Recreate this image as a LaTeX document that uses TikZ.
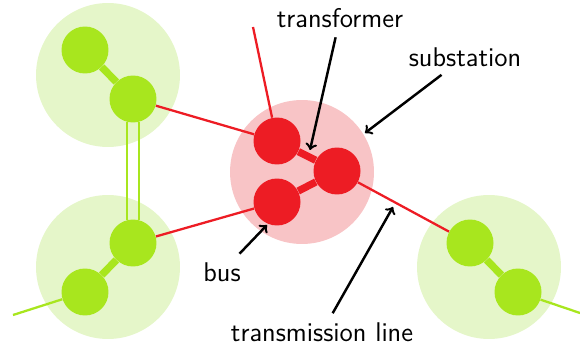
\documentclass[tikz,border=0pt]{standalone}
\usepackage{tikz}
\usetikzlibrary{arrows}

\definecolor{areagreen}{RGB}{229,246,201}
\definecolor{busgreen}{RGB}{168,230,30}
\definecolor{busred}{RGB}{237,28,36}
\definecolor{areared}{RGB}{248,196,198}

\begin{document}
\begin{tikzpicture}[x=0.02cm,y=-0.02cm,>=to,
    area/.style={circle,minimum size=2.88cm,inner sep=0pt},
    bus/.style={circle,minimum size=0.94cm,inner sep=0pt},
    link/.style={line width=4.2pt},
    feeder/.style={line width=1.3pt},
    pointer/.style={->,line width=1.4pt,shorten <=2pt},
    lbl/.style={font=\fontsize{15.4}{18}\selectfont\sffamily}]

  \useasboundingbox (0,0) rectangle (580,347);

  % areas and substation
  \node[area,fill=areagreen] (areaA) at (108,75) {};
  \node[area,fill=areagreen] (areaB) at (108,267) {};
  \node[area,fill=areagreen] (areaC) at (489,267) {};
  \node[area,fill=areared] (sub) at (302,172) {};

  % buses
  \node[bus,fill=busgreen] (A1) at (85,50) {};
  \node[bus,fill=busgreen] (A2) at (133,99) {};
  \node[bus,fill=busgreen] (B1) at (133,243) {};
  \node[bus,fill=busgreen] (B2) at (85,292) {};
  \node[bus,fill=busgreen] (C1) at (470,243) {};
  \node[bus,fill=busgreen] (C2) at (518,292) {};
  \node[bus,fill=busred] (R1) at (277,141) {};
  \node[bus,fill=busred] (R2) at (277,202) {};
  \node[bus,fill=busred] (R3) at (337,171) {};

  \coordinate (feedN) at (253,27);
  \coordinate (feedW) at (13,315);
  \coordinate (feedE) at (580,313);

  % transformers
  \draw[busgreen,link] (A1) -- (A2) (B1) -- (B2) (C1) -- (C2);
  \draw[busred,link] (R1) -- (R3) (R2) -- (R3);

  % lines
  \draw[busgreen,feeder] (A2.-105) -- (B1.105) (A2.-75) -- (B1.75);
  \draw[busgreen,feeder] (B2) -- (feedW) (C2) -- (feedE);
  \draw[busred,feeder] (A2) -- (R1) (B1) -- (R2) (R3) -- (C1) (R1) -- (feedN);

  % labels
  \node[lbl] (lblTrafo) at (340,18) {transformer};
  \node[lbl] (lblSub) at (465,57) {substation};
  \node[lbl] (lblBus) at (222,272) {bus};
  \node[lbl] (lblLine) at (322,332) {transmission line};

  \coordinate (tipTrafo) at (310,150);
  \coordinate (tipSub) at (365,133);
  \coordinate (tipBus) at (267,225);
  \coordinate (tipLine) at (393,207);

  \draw[pointer] (lblTrafo) -- (tipTrafo);
  \draw[pointer] (lblSub) -- (tipSub);
  \draw[pointer] (lblBus) -- (tipBus);
  \draw[pointer] (lblLine) -- (tipLine);

\end{tikzpicture}
\end{document}
